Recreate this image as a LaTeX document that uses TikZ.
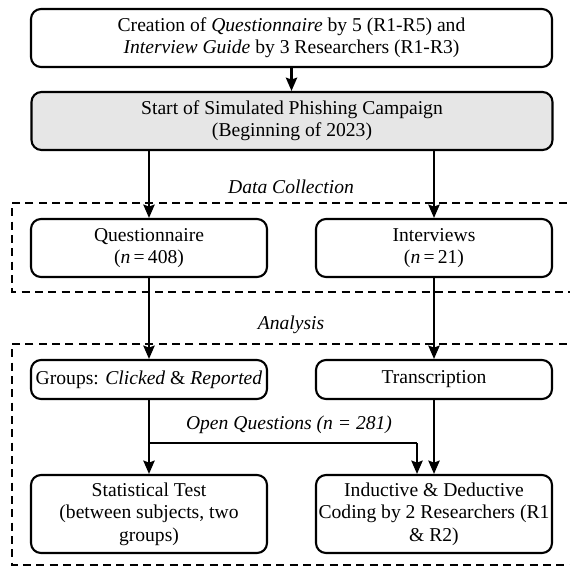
\documentclass[tikz,border=0pt]{standalone}
\usepackage{fontspec}
\setmainfont{Liberation Serif}
\newfontfamily\stagefont{Liberation Serif}
\usetikzlibrary{arrows.meta}
\definecolor{stagegray}{HTML}{E6E6E6}
\begin{document}
\begin{tikzpicture}[x=0.75pt,y=-0.75pt,
  every node/.style={font=\stagefont\fontsize{14.7}{16.8}\selectfont},
  stagebox/.style={draw, line width=1.6pt, rounded corners=7.5pt, align=center, inner sep=0pt},
  wide/.style={stagebox, minimum width=390.75pt, minimum height=43.5pt},
  half/.style={stagebox, minimum width=177pt, minimum height=43.5pt},
  flow/.style={line width=1.6pt, -{Stealth[length=10pt,width=8.5pt,inset=1.5pt]}},
  plain/.style={line width=1.6pt},
  region/.style={line width=1.5pt, dash pattern=on 6pt off 4pt},
  tag/.style={font=\stagefont\fontsize{14.7}{16.8}\selectfont\itshape}]
\useasboundingbox (0,0) rectangle (570,567);

% dashed phase regions, open to the right
\draw[region] (580,203) -| (12,292) -- (580,292);
\draw[region] (580,344) -| (12,565) -- (580,565);

% stages
\node[wide] (create) at (291.5,38) {Creation of \textit{Questionnaire} by 5 (R1-R5) and\\ \textit{Interview Guide} by 3 Researchers (R1-R3)};
\node[wide, fill=stagegray] (start) at (292,121) {Start of Simulated Phishing Campaign\\(Beginning of 2023)};
\node[half] (quest) at (149,248) {Questionnaire\\(\textit{n}\,=\,408)};
\node[half] (inter) at (434,248) {Interviews\\(\textit{n}\,=\,21)};
\node[half, minimum height=29.25pt] (groups) at (149,379.5) {Groups: \textit{Clicked} \& \textit{Reported}};
\node[half, minimum height=29.25pt] (trans) at (434,379.5) {Transcription};
\node[half, minimum height=58.5pt] (stat) at (149,514) {Statistical Test\\(between subjects, two\\groups)};
\node[half, minimum height=58.5pt] (coding) at (434,514) {Inductive \& Deductive\\Coding by 2 Researchers (R1\\\& R2)};

% phase labels
\node[tag] (dclabel) at (291,187) {Data Collection};
\node[tag] (anlabel) at (291,325) {Analysis};
\node[tag] (oqlabel) at (289,425) {Open Questions (n = 281)};

\coordinate (split) at (149,443);
\coordinate (bend) at (417,443);

% connectors
\draw[flow] (create.south) -- (create.south |- start.north);
\draw[flow] (start.south -| quest.north) -- (quest.north);
\draw[flow] (start.south -| inter.north) -- (inter.north);
\draw[flow] (quest) -- (groups);
\draw[flow] (inter) -- (trans);
\draw[flow] (groups) -- (stat);
\draw[plain] (split) -- (bend);
\draw[flow] (bend) -- (bend |- coding.north);
\draw[flow] (trans) -- (coding);
\end{tikzpicture}
\end{document}
